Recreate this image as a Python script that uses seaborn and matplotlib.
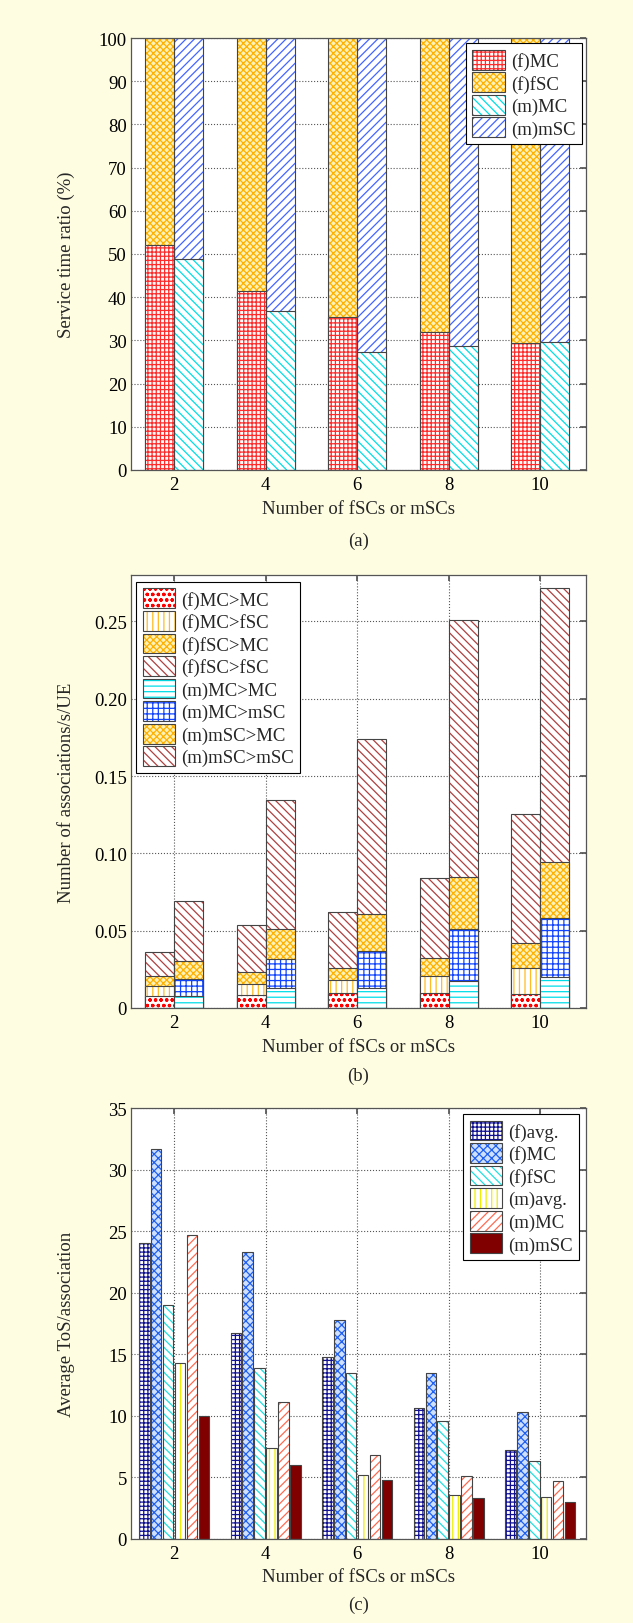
import numpy as np
import pandas as pd
import seaborn as sns
import matplotlib.pyplot as plt
from matplotlib.patches import Patch, Rectangle
from matplotlib.legend_handler import HandlerTuple
from matplotlib.ticker import FuncFormatter

n_cells = ["2", "4", "6", "8", "10"]

# (a) service time ratio (%), f = fSC scenario, m = mSC scenario
f_mc_share = [52.1, 41.4, 35.5, 32.0, 29.5]
f_fsc_share = [47.9, 58.6, 64.5, 68.0, 70.5]
m_mc_share = [48.9, 36.8, 27.2, 28.7, 29.7]
m_msc_share = [51.1, 63.2, 72.8, 71.3, 70.3]

# (b) associations/s/UE, segments from the bottom up
f_mc_mc = [0.0078, 0.0083, 0.0100, 0.0100, 0.0089]
f_mc_fsc = [0.0067, 0.0071, 0.0079, 0.0108, 0.0168]
f_fsc_mc = [0.0060, 0.0076, 0.0078, 0.0118, 0.0163]
f_fsc_fsc = [0.0159, 0.0306, 0.0361, 0.0516, 0.0834]
m_mc_mc = [0.0078, 0.0129, 0.0129, 0.0174, 0.0199]
m_mc_msc = [0.0107, 0.0190, 0.0237, 0.0339, 0.0381]
m_msc_mc = [0.0119, 0.0194, 0.0239, 0.0331, 0.0364]
m_msc_msc = [0.0388, 0.0831, 0.1136, 0.1663, 0.1770]

# (c) average ToS per association
tos_f_avg = [24.0, 16.7, 14.8, 10.6, 7.2]
tos_f_mc = [31.7, 23.3, 17.8, 13.5, 10.3]
tos_f_fsc = [19.0, 13.9, 13.5, 9.6, 6.3]
tos_m_avg = [14.3, 7.4, 5.2, 3.6, 3.4]
tos_m_mc = [24.7, 11.1, 6.8, 5.1, 4.7]
tos_m_msc = [10.0, 6.0, 4.8, 3.3, 3.0]

# face, hatch, hatch colour
orange_check = ("#fff2b8", "xxxxx", "#ffb000")
brown_diag = ("white", "\\\\\\\\", "#b04040")
styles = {
    "(f)MC": ("white", "++++", "#ff2a2a"),
    "(f)fSC": orange_check,
    "(m)MC": ("white", "\\\\\\\\", "#00dfe6"),
    "(m)mSC": ("white", "////", "#4466ff"),
    "(f)MC>MC": ("white", "ooo", "#ff0000"),
    "(f)MC>fSC": ("white", "|||", "#ffbb22"),
    "(f)fSC>MC": orange_check,
    "(f)fSC>fSC": brown_diag,
    "(m)MC>MC": ("white", "---", "#00dde8"),
    "(m)MC>mSC": ("white", "+++", "#1144ff"),
    "(m)mSC>MC": orange_check,
    "(m)mSC>mSC": brown_diag,
    "(f)avg.": ("white", "++++", "#101090"),
    "(f)MC ": ("#cfe0ff", "xxxx", "#1f5ff0"),
    "(f)fSC ": ("white", "\\\\\\\\", "#20e0e0"),
    "(m)avg.": ("white", "|||", "#eeee00"),
    "(m)MC ": ("white", "////", "#ff6a50"),
    "(m)mSC ": ("#800000", "", "#800000"),
}
EDGE = "#444444"
BG = "#fefde2"
FS = 13.5

sns.set_theme(style="white", rc={"hatch.linewidth": 0.9})
plt.rcParams["font.family"] = ["Liberation Serif", "DejaVu Serif"]
plt.rcParams["font.size"] = FS


def paint(ax, p, name):
    face, hatch, hc = styles[name]
    p.set_facecolor(face)
    p.set_hatch(hatch)
    p.set_edgecolor(hc)
    p.set_linewidth(0)
    ax.add_patch(Rectangle(p.get_xy(), p.get_width(), p.get_height(),
                           fill=False, edgecolor=EDGE, linewidth=0.8,
                           zorder=p.get_zorder()))


def handle(name):
    face, hatch, hc = styles[name]
    return (Patch(facecolor=face, hatch=hatch, edgecolor=hc, linewidth=0),
            Patch(fill=False, edgecolor=EDGE, linewidth=0.8))


def stacked(ax, segs_f, segs_m, names_f, names_m):
    cum_f = np.cumsum(segs_f, axis=0)
    cum_m = np.cumsum(segs_m, axis=0)
    for k in reversed(range(len(names_f))):
        df = pd.DataFrame({"N": n_cells * 2,
                           "top": list(cum_f[k]) + list(cum_m[k]),
                           "side": ["f"] * 5 + ["m"] * 5})
        n0 = len(ax.patches)
        sns.barplot(data=df, x="N", y="top", hue="side", order=n_cells,
                    hue_order=["f", "m"], width=0.635, errorbar=None,
                    legend=False, ax=ax)
        for p in list(ax.patches[n0:]):
            xc = p.get_x() + p.get_width() / 2
            paint(ax, p, names_f[k] if xc < round(xc) else names_m[k])


def finish(ax, ylabel, caption, xlab_y, cap_y):
    ax.set_facecolor("white")
    ax.set_xlim(-0.47, 4.5)
    ax.grid(True, linestyle=":", color="#555555", linewidth=0.8)
    ax.set_axisbelow(True)
    for s in ax.spines.values():
        s.set_visible(True)
        s.set_color("#555555")
        s.set_linewidth(0.9)
    ax.tick_params(direction="in", top=True, right=True, length=4,
                   color="#555555", labelsize=FS, labelcolor="black")
    ax.tick_params(axis="x", pad=4)
    ax.tick_params(axis="y", pad=3)
    ax.set_ylabel(ylabel, fontsize=FS)
    ax.yaxis.set_label_coords(-0.122, 0.5)
    ax.set_xlabel("Number of fSCs or mSCs", fontsize=FS)
    ax.xaxis.set_label_coords(0.5, xlab_y)
    ax.xaxis.label.set_verticalalignment("center")
    fig.text(358.5 / 633, 1 - cap_y / 1624, caption, ha="center", va="center",
             fontsize=FS)


leg_kw = dict(handler_map={tuple: HandlerTuple(ndivide=1, pad=0)},
              fontsize=FS, frameon=True, fancybox=False, framealpha=1,
              edgecolor="black", borderaxespad=0, handlelength=1.75,
              handleheight=1.25, handletextpad=0.3, labelspacing=0.12,
              borderpad=0.35)

fig = plt.figure(figsize=(6.33, 16.24), dpi=100)
fig.patch.set_facecolor(BG)

# (a)
ax1 = fig.add_axes([131 / 633, 1 - 471 / 1624, 455 / 633, 432 / 1624])
stacked(ax1, [f_mc_share, f_fsc_share], [m_mc_share, m_msc_share],
        ["(f)MC", "(f)fSC"], ["(m)MC", "(m)mSC"])
ax1.set_ylim(0, 100)
ax1.set_yticks(range(0, 101, 10))
finish(ax1, "Service time ratio (%)", "(a)", -0.09, 541)
names_a = ["(f)MC", "(f)fSC", "(m)MC", "(m)mSC"]
leg = ax1.legend([handle(n) for n in names_a], names_a, loc="upper right",
                 bbox_to_anchor=(0.991, 0.988), **leg_kw)
leg.get_frame().set_linewidth(0.8)

# (b)
ax2 = fig.add_axes([131 / 633, 1 - 1009 / 1624, 455 / 633, 433 / 1624])
names_bf = ["(f)MC>MC", "(f)MC>fSC", "(f)fSC>MC", "(f)fSC>fSC"]
names_bm = ["(m)MC>MC", "(m)MC>mSC", "(m)mSC>MC", "(m)mSC>mSC"]
stacked(ax2, [f_mc_mc, f_mc_fsc, f_fsc_mc, f_fsc_fsc],
        [m_mc_mc, m_mc_msc, m_msc_mc, m_msc_msc], names_bf, names_bm)
ax2.set_ylim(0, 0.28)
ax2.set_yticks(np.arange(0, 0.26, 0.05))
ax2.yaxis.set_major_formatter(FuncFormatter(lambda v, _: "0" if v == 0 else f"{v:.2f}"))
finish(ax2, "Number of associations/s/UE", "(b)", -0.088, 1076)
names_b = names_bf + names_bm
leg = ax2.legend([handle(n) for n in names_b], names_b, loc="upper left",
                 bbox_to_anchor=(0.011, 0.984), **leg_kw)
leg.get_frame().set_linewidth(0.8)

# (c)
ax3 = fig.add_axes([131 / 633, 1 - 1540 / 1624, 455 / 633, 431 / 1624])
names_c = ["(f)avg.", "(f)MC ", "(f)fSC ", "(m)avg.", "(m)MC ", "(m)mSC "]
series_c = [tos_f_avg, tos_f_mc, tos_f_fsc, tos_m_avg, tos_m_mc, tos_m_msc]
df_c = pd.DataFrame({"N": n_cells * 6,
                     "tos": [v for s in series_c for v in s],
                     "series": [n for n in names_c for _ in n_cells]})
sns.barplot(data=df_c, x="N", y="tos", hue="series", order=n_cells,
            hue_order=names_c, width=0.78, gap=0.12, errorbar=None,
            legend=False, ax=ax3)
slot = 0.78 / 6
for p in list(ax3.patches):
    xc = p.get_x() + p.get_width() / 2
    idx = int(round((xc - round(xc) + 0.39 - slot / 2) / slot))
    paint(ax3, p, names_c[idx])
ax3.set_ylim(0, 35)
ax3.set_yticks(range(0, 36, 5))
finish(ax3, "Average ToS/association", "(c)", -0.086, 1605)
leg = ax3.legend([handle(n) for n in names_c], [n.strip() for n in names_c],
                 loc="upper right", bbox_to_anchor=(0.985, 0.986), **leg_kw)
leg.get_frame().set_linewidth(0.8)

fig.savefig("out.png", dpi=100, facecolor=BG)
